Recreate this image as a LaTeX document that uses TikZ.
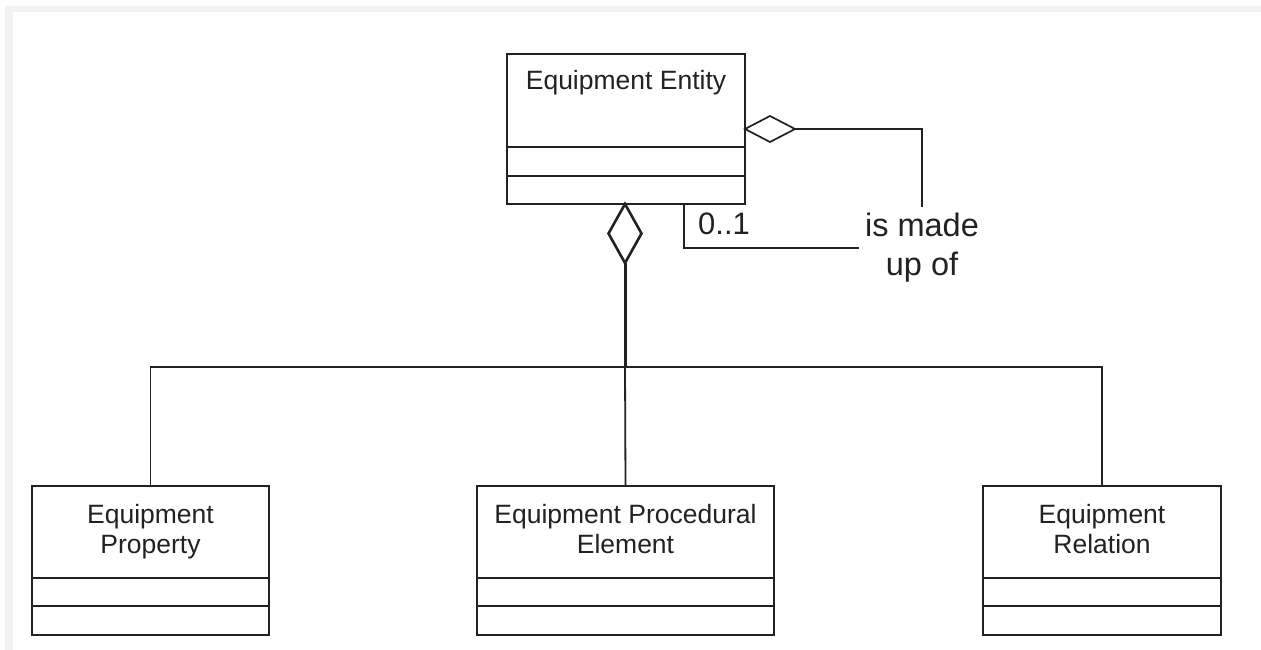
\documentclass[tikz,border=0pt]{standalone}
\usepackage{fontspec}
\setmainfont{Liberation Sans}
\usetikzlibrary{shapes.geometric}
\definecolor{ln}{HTML}{222222}
\definecolor{bandgray}{HTML}{F2F2F2}
\tikzset{
  classbox/.style={draw=ln, line width=1.9pt, rectangle, inner sep=0pt, outer sep=0pt},
  classname/.style={text=ln, font=\fontsize{26.5}{30}\selectfont, align=center, inner sep=0pt},
  divline/.style={draw=ln, line width=1.9pt},
  conn/.style={draw=ln, line width=1.8pt},
  thickconn/.style={draw=ln, line width=3pt},
  biglabel/.style={text=ln, font=\fontsize{32.5}{39}\selectfont, align=center, inner sep=6pt},
  multlabel/.style={text=ln, font=\fontsize{31}{36}\selectfont, inner sep=0pt},
}
\begin{document}
\begin{tikzpicture}[x=1pt, y=-1pt]
\useasboundingbox (0,0) rectangle (1261,650);
\fill[bandgray] (5,6) rectangle (1261,650);
\fill[white] (13,12) rectangle (1261,650);

% top class
\node[classbox, minimum width=238, minimum height=150] (ee) at (626,129) {};
\node[classname, anchor=base] (eet) at (626,90) {Equipment Entity};
\draw[divline] (ee.west |- 0,147) -- (ee.east |- 0,147);
\draw[divline] (ee.west |- 0,176) -- (ee.east |- 0,176);

% bottom classes
\node[classbox, minimum width=237, minimum height=149] (ep) at (150.5,560.5) {};
\node[classname, anchor=base] (ept) at (150.5,553) {Equipment\\Property};
\node[classbox, minimum width=297, minimum height=149] (epe) at (625.5,560.5) {};
\node[classname, anchor=base] (epet) at (625.5,553) {Equipment Procedural\\Element};
\node[classbox, minimum width=238, minimum height=149] (er) at (1102,560.5) {};
\node[classname, anchor=base] (ert) at (1102,553) {Equipment\\Relation};
\foreach \b in {ep,epe,er}{
  \draw[divline] (\b.west |- 0,578) -- (\b.east |- 0,578);
  \draw[divline] (\b.west |- 0,606) -- (\b.east |- 0,606);
}

% aggregation diamond (bottom)
\node[diamond, draw=ln, line width=2.6pt, fill=white, minimum width=33, minimum height=59, inner sep=0pt, outer sep=0pt, anchor=north] (agg) at (625,204) {};
\coordinate (j) at (625,367);
\draw[thickconn] (agg.south) -- (j);
\draw[conn] (ep.north) |- (j) -| (er.north);
\draw[conn] (j) -- (epe.north);

% self aggregation
\node[diamond, draw=ln, line width=1.7pt, fill=white, minimum width=50, minimum height=26, inner sep=0pt, outer sep=0pt, anchor=west] (sd) at (ee.east |- 0,129) {};
\node[biglabel] (lbl) at (922,248) {is made\\up of};
\draw[conn] (sd.east) -| (lbl.north);
\draw[conn] (ee.south -| 684,0) |- (lbl.west);
\node[multlabel, anchor=base west] (m01) at (698,234) {0..1};
\end{tikzpicture}
\end{document}
